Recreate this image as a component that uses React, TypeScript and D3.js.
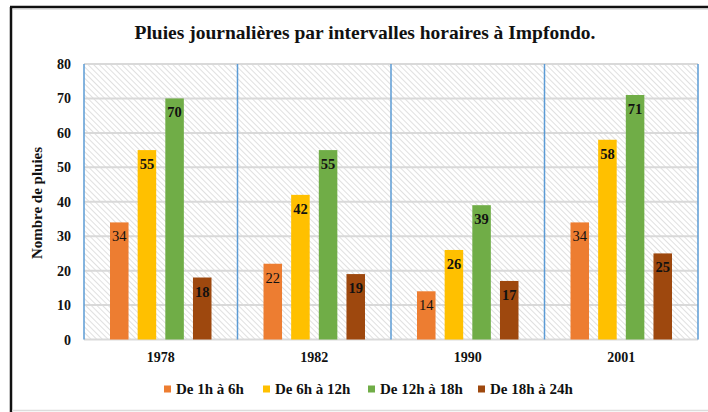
import React from "react";
import * as d3 from "d3";

const years = ["1978", "1982", "1990", "2001"];
const seriesNames = ["De 1h à 6h", "De 6h à 12h", "De 12h à 18h", "De 18h à 24h"];
const seriesColors = ["#ED7D31", "#FFC000", "#70AD47", "#9E480E"];
const v1to6 = [34, 22, 14, 34];
const v6to12 = [55, 42, 26, 58];
const v12to18 = [70, 55, 39, 71];
const v18to24 = [18, 19, 17, 25];
const seriesValues = [v1to6, v6to12, v12to18, v18to24];
const yTicks = [0, 10, 20, 30, 40, 50, 60, 70, 80];
const labelBold = [false, true, true, true];

const W = 708;
const H = 412;
const left = 84;
const right = 698;
const top = 64;
const bottom = 339.5;
const font = "Liberation Serif, Times New Roman, DejaVu Serif, serif";

export default function App() {
  const x0 = d3.scaleBand<string>().domain(years).range([left, right]).padding(0);
  const bw = x0.bandwidth();
  const x1 = d3
    .scaleBand<number>()
    .domain([0, 1, 2, 3])
    .range([26, bw - 26])
    .paddingInner(0.33);
  const y = d3.scaleLinear().domain([0, 80]).range([bottom, top]);

  const legendX = [164, 263, 368, 478];
  const ts = { fontFamily: font };

  return (
    <svg
      width={W}
      height={H}
      style={{ position: "absolute", left: 0, top: 0, background: "#fff", fontFamily: font }}
    >
      <defs>
        <pattern
          id="hatch"
          width={4}
          height={4}
          patternUnits="userSpaceOnUse"
          patternTransform="rotate(-45)"
        >
          <rect width={4} height={4} fill="#ffffff" />
          <line x1={0.5} y1={0} x2={0.5} y2={4} stroke="#dcdcdc" strokeWidth={0.9} />
        </pattern>
      </defs>
      <rect x={0} y={0} width={W} height={H} fill="#fff" />
      <line x1={10} y1={7} x2={W} y2={7} stroke="#111" strokeWidth={2.5} />
      <line x1={11} y1={7} x2={11} y2={H} stroke="#111" strokeWidth={2.5} />
      <line x1={13} y1={9.5} x2={W} y2={9.5} stroke="#e3e3e3" strokeWidth={1} />
      <line x1={12} y1={410.5} x2={W} y2={410.5} stroke="#dcdcdc" strokeWidth={1.5} />

      <text
        x={365}
        y={39}
        textAnchor="middle"
        fontSize={19.5}
        fontWeight="bold"
        fill="#111"
        style={ts}
      >
        Pluies journalières par intervalles horaires à Impfondo.
      </text>

      <rect x={left} y={top} width={right - left} height={bottom - top} fill="url(#hatch)" />
      {yTicks.map((t) => (
        <line
          key={"g" + t}
          x1={left}
          x2={right}
          y1={y(t)}
          y2={y(t)}
          stroke="#d9d9d9"
          strokeWidth={2}
        />
      ))}
      {years.map((yr) => (
        <line
          key={"b" + yr}
          x1={x0(yr)!}
          x2={x0(yr)!}
          y1={top}
          y2={bottom}
          stroke="#5B9BD5"
          strokeWidth={1.5}
        />
      ))}
      <line x1={right} x2={right} y1={top} y2={bottom} stroke="#5B9BD5" strokeWidth={1.5} />

      {yTicks.map((t) => (
        <text
          key={"t" + t}
          x={71}
          y={y(t) + 5}
          textAnchor="end"
          fontSize={14}
          fontWeight="bold"
          fill="#111"
          style={ts}
        >
          {t}
        </text>
      ))}

      <text
        transform={`translate(42,203) rotate(-90)`}
        textAnchor="middle"
        fontSize={15}
        fontWeight="bold"
        fill="#111"
        style={ts}
      >
        Nombre de pluies
      </text>

      {years.map((yr, yi) =>
        seriesValues.map((vals, si) => {
          const bx = x0(yr)! + x1(si)!;
          const v = vals[yi];
          return (
            <g key={yr + si}>
              <rect
                x={bx}
                y={y(v)}
                width={x1.bandwidth()}
                height={y(0) - y(v)}
                fill={seriesColors[si]}
              />
              <text
                x={bx + x1.bandwidth() / 2}
                y={y(v) + 19}
                textAnchor="middle"
                fontSize={14.5}
                fontWeight={labelBold[si] ? "bold" : "normal"}
                fill="#111"
                style={ts}
              >
                {v}
              </text>
            </g>
          );
        })
      )}

      {years.map((yr) => (
        <text
          key={"x" + yr}
          x={x0(yr)! + bw / 2}
          y={362}
          textAnchor="middle"
          fontSize={14}
          fontWeight="bold"
          fill="#111"
          style={ts}
        >
          {yr}
        </text>
      ))}

      {seriesNames.map((n, i) => (
        <g key={n}>
          <rect x={legendX[i]} y={385.5} width={7} height={7} fill={seriesColors[i]} />
          <text
            x={legendX[i] + 12}
            y={394}
            fontSize={15}
            fontWeight="bold"
            fill="#111"
            style={ts}
          >
            {n}
          </text>
        </g>
      ))}
    </svg>
  );
}
